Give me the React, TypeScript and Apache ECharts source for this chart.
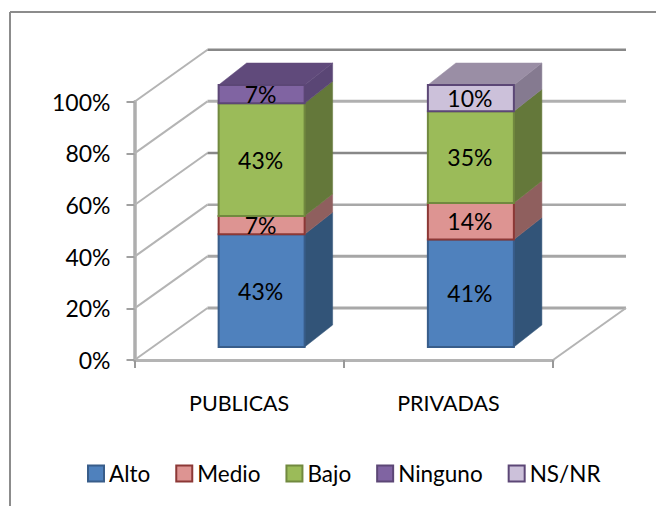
import React, { useEffect, useRef } from "react";
import * as echarts from "echarts";

const categories = ["PUBLICAS", "PRIVADAS"];
const seriesNames = ["Alto", "Medio", "Bajo", "Ninguno", "NS/NR"];
const alto = [43, 41];
const medio = [7, 14];
const bajo = [43, 35];
const ninguno = [7, 0];
const nsnr = [0, 10];
const seriesValues = [alto, medio, bajo, ninguno, nsnr];
const yTicks = [0, 20, 40, 60, 80, 100];

const FONT = "Lato, Carlito, 'Open Sans', sans-serif";
const front = ["#4f81bd", "#dd9492", "#9bbb59", "#8064a2", "#ccc1da"];
const border = ["#385d8a", "#8c3836", "#71893f", "#5c4776", "#5c4776"];
const side = ["#325478", "#8f5f5e", "#64783a", "#5a4675", "#857a90"];
const topFace = ["#3b6291", "#a36e6c", "#749041", "#604a7b", "#9a8ea5"];
const gridColor = ["#a8a8a8", "#a6a6a6", "#a8a8a8", "#888888", "#b0b0b0", "#888888"];
const gridWidth = [3, 3, 2.5, 2.5, 3, 2.5];

const WALL_DX = 73;
const WALL_DY = -52;
const BAR_SHIFT_X = 22.5;
const BAR_BASE_DY = -13;
const BAR_WIDTH = 86;
const BAR_DX = 28;
const BAR_DY = -22;
const BAR_SCALE = 262 / 258.3;

export default function App() {
  const ref = useRef<HTMLDivElement>(null);
  useEffect(() => {
    const chart = echarts.init(ref.current!, undefined, { renderer: "svg" });

    const gridSeries = {
      type: "custom",
      name: "__grid",
      silent: true,
      z: 1,
      data: yTicks.map((t) => [0, t]),
      encode: { x: 0, y: 1 },
      renderItem: (params: any, api: any) => {
        const v = api.value(1);
        const band = api.size([1, 0])[0];
        const a = api.coord([0, v]);
        const b = api.coord([1, v]);
        const x0 = a[0] - band / 2;
        const x1 = b[0] + band / 2;
        const y = a[1];
        const i = params.dataIndex;
        const children: any[] = [
          {
            type: "line",
            shape: { x1: x0, y1: y, x2: x0 + WALL_DX, y2: y + WALL_DY },
            style: { stroke: "#b4b4b4", lineWidth: 2 },
          },
          {
            type: "line",
            shape: { x1: x0 + WALL_DX, y1: y + WALL_DY, x2: x1 + WALL_DX, y2: y + WALL_DY },
            style: { stroke: gridColor[i], lineWidth: gridWidth[i] },
          },
        ];
        if (v === 0) {
          children.push({
            type: "line",
            shape: { x1, y1: y, x2: x1 + WALL_DX, y2: y + WALL_DY },
            style: { stroke: "#b4b4b4", lineWidth: 2 },
          });
        }
        return { type: "group", children };
      },
    };

    const barSeries = seriesNames.map((name, s) => ({
      type: "custom",
      name,
      z: 3 + s,
      itemStyle: { color: front[s], borderColor: border[s], borderWidth: 2 },
      encode: { x: 0, y: [1, 2] },
      data: categories.map((_, c) => {
        const base = seriesValues.slice(0, s).reduce((sum, arr) => sum + arr[c], 0);
        return [c, base, base + seriesValues[s][c]];
      }),
      renderItem: (params: any, api: any) => {
        const c = api.value(0);
        const lo = api.value(1);
        const hi = api.value(2);
        if (hi <= lo) return { type: "group", children: [] };
        const zero = api.coord([c, 0]);
        const pLo = api.coord([c, lo]);
        const pHi = api.coord([c, hi]);
        const left = zero[0] + BAR_SHIFT_X - BAR_WIDTH / 2;
        const right = left + BAR_WIDTH;
        const yOf = (py: number) => zero[1] + BAR_BASE_DY - (zero[1] - py) * BAR_SCALE;
        const yb = yOf(pLo[1]);
        const yt = yOf(pHi[1]);
        const isTop = seriesValues.slice(s + 1).every((arr) => arr[c] === 0);
        const children: any[] = [
          {
            type: "polygon",
            shape: {
              points: [
                [right, yb],
                [right + BAR_DX, yb + BAR_DY],
                [right + BAR_DX, yt + BAR_DY],
                [right, yt],
              ],
            },
            style: { fill: side[s], stroke: side[s], lineWidth: 0.5 },
          },
        ];
        if (isTop) {
          children.push({
            type: "polygon",
            shape: {
              points: [
                [left, yt],
                [left + BAR_DX, yt + BAR_DY],
                [right + BAR_DX, yt + BAR_DY],
                [right, yt],
              ],
            },
            style: { fill: topFace[s], stroke: topFace[s], lineWidth: 0.5 },
          });
        }
        children.push({
          type: "rect",
          shape: { x: left, y: yt, width: BAR_WIDTH, height: yb - yt },
          style: { fill: front[s], stroke: border[s], lineWidth: 2 },
        });
        children.push({
          type: "text",
          style: {
            text: `${hi - lo}%`,
            x: left + BAR_WIDTH / 2 - 1,
            y: (yb + yt) / 2,
            fill: "#000000",
            fontFamily: FONT,
            fontSize: 23,
            textAlign: "center",
            textVerticalAlign: "middle",
          },
        });
        return { type: "group", children };
      },
    }));

    chart.setOption({
      animation: false,
      backgroundColor: "#ffffff",
      grid: { left: 134.5, right: 103, top: 101.7, bottom: 146 },
      xAxis: {
        type: "category",
        data: categories,
        axisLine: { lineStyle: { color: "#b4b4b4", width: 3 } },
        axisTick: { show: true, length: 8, lineStyle: { color: "#999999", width: 2 } },
        axisLabel: { color: "#000000", fontFamily: FONT, fontSize: 21.5, margin: 32 },
      },
      yAxis: {
        type: "value",
        min: 0,
        max: 100,
        interval: 20,
        splitLine: { show: false },
        axisLine: { show: true, lineStyle: { color: "#aeaeae", width: 3.5 } },
        axisTick: { show: true, length: 8, lineStyle: { color: "#a0a0a0", width: 2 } },
        axisLabel: {
          color: "#000000",
          fontFamily: FONT,
          fontSize: 23,
          margin: 24,
          formatter: (v: number) => `${v}%`,
        },
      },
      legend: {
        left: 87,
        top: 462,
        padding: 0,
        itemGap: 25,
        itemWidth: 16,
        itemHeight: 16,
        icon: "rect",
        selectedMode: false,
        textStyle: { color: "#000000", fontFamily: FONT, fontSize: 22.5 },
        data: seriesNames.map((name, s) => ({
          name,
          itemStyle: { color: front[s], borderColor: border[s], borderWidth: 2 },
        })),
      },
      graphic: [
        {
          type: "line",
          silent: true,
          shape: { x1: 10, y1: 12, x2: 656, y2: 12 },
          style: { stroke: "#8c8c8c", lineWidth: 2 },
        },
        {
          type: "line",
          silent: true,
          shape: { x1: 10, y1: 12, x2: 10, y2: 506 },
          style: { stroke: "#8c8c8c", lineWidth: 2 },
        },
      ],
      series: [gridSeries, ...barSeries],
    });
    return () => chart.dispose();
  }, []);
  return (
    <div
      ref={ref}
      style={{ position: "absolute", left: 0, top: 0, width: 656, height: 506 }}
    />
  );
}
